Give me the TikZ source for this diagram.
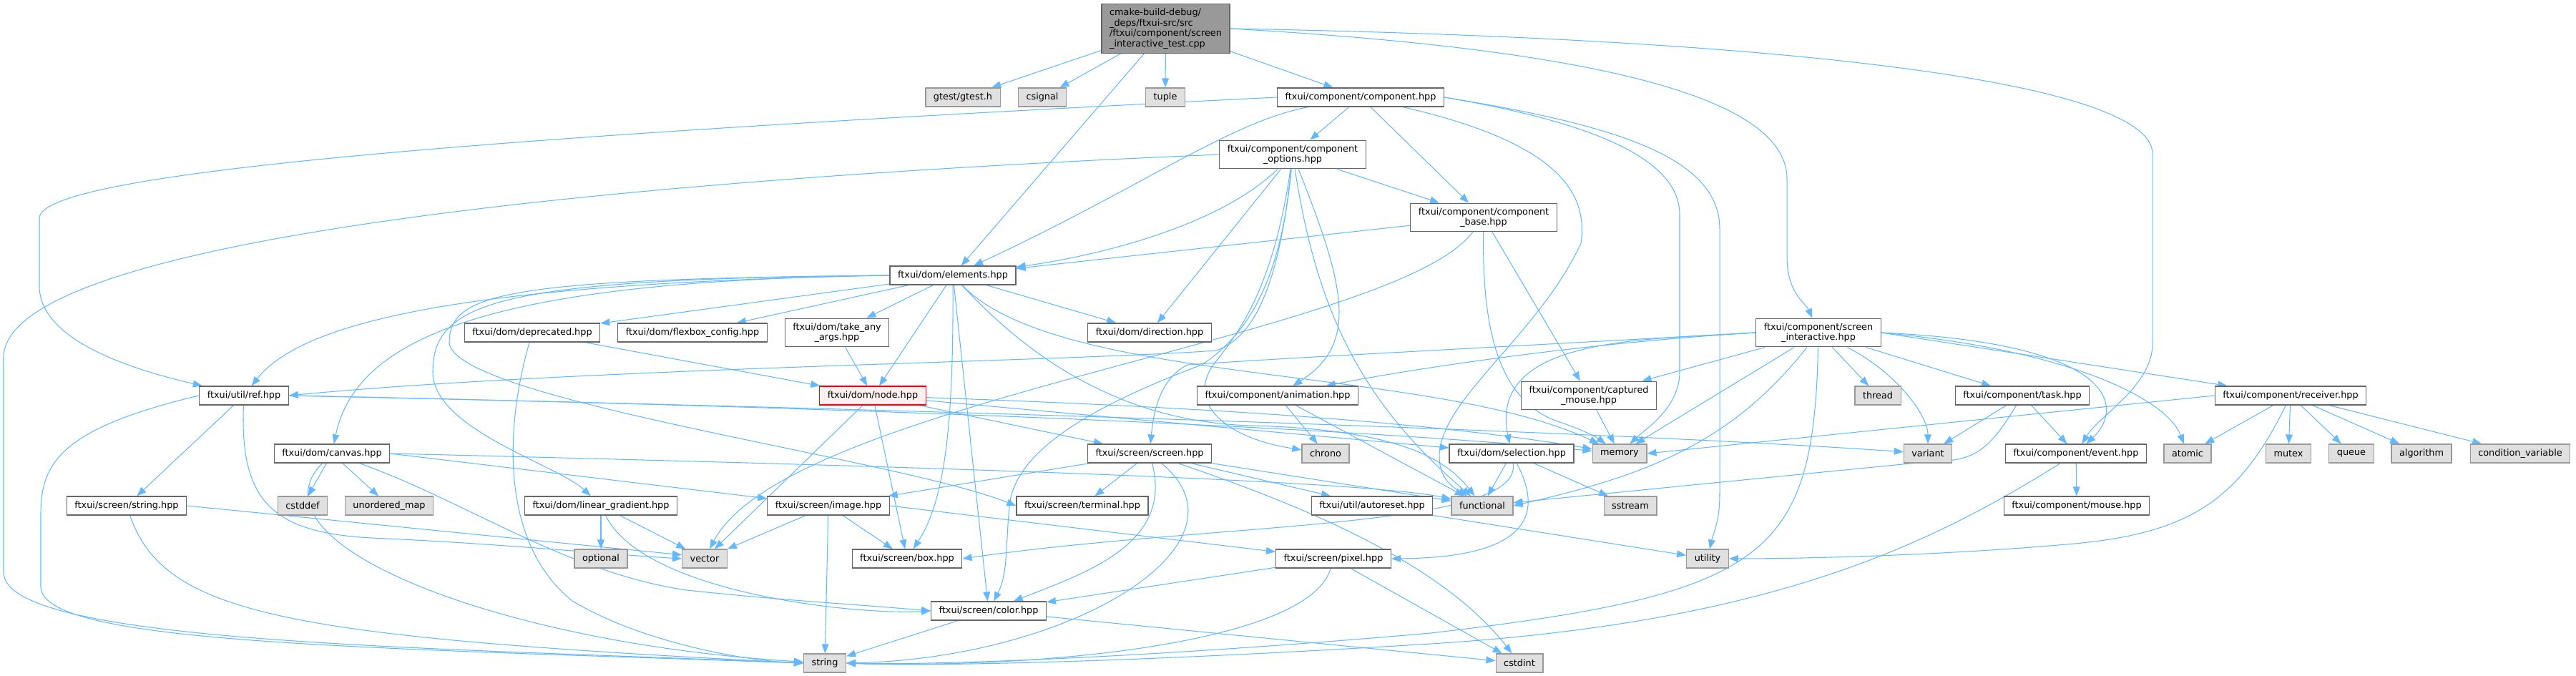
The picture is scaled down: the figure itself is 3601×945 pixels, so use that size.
\documentclass[tikz,border=0pt]{standalone}
\usepackage{fontspec}
\setmainfont{DejaVu Sans}
\usetikzlibrary{arrows.meta,backgrounds}
\definecolor{incblue}{HTML}{63B8FF}
\definecolor{sysgray}{HTML}{E0E0E0}
\definecolor{sysedge}{HTML}{999999}
\definecolor{hdredge}{HTML}{666666}
\definecolor{truncfill}{HTML}{FFF0F0}
\begin{document}
\begin{tikzpicture}[x=0.02cm,y=-0.02cm,
  hdr/.style={draw=hdredge,fill=white,line width=0.7pt,inner xsep=6.3pt,inner ysep=3.5pt,minimum height=14.8pt,align=center,font=\fontsize{7.3}{8.3}\selectfont},
  sys/.style={hdr,draw=sysedge,fill=sysgray},
  root/.style={hdr,draw=hdredge,fill=sysedge,align=left},
  trunc/.style={hdr,draw=red,fill=truncfill},
  inc/.style={draw=incblue,line width=0.6pt,-{Triangle[length=7.4pt,width=5.6pt]}}]
  \useasboundingbox (0,0) rectangle (3601,945);
  \node[root] (main) at (1629.5,40) {cmake-build-debug/\\\_deps/ftxui-src/src\\/ftxui/component/screen\\\_interactive\_test.cpp};
  \node[sys] (gtest) at (1346,136) {gtest/gtest.h};
  \node[sys] (csignal) at (1457,136) {csignal};
  \node[sys] (tuple) at (1629,136) {tuple};
  \node[hdr] (component) at (1902,136) {ftxui/component/component.hpp};
  \node[hdr] (options) at (1807,216) {ftxui/component/component\\\_options.hpp};
  \node[hdr] (base) at (2074,304) {ftxui/component/component\\\_base.hpp};
  \node[hdr] (elements) at (1332,385) {ftxui/dom/elements.hpp};
  \node[hdr] (deprecated) at (744,465) {ftxui/dom/deprecated.hpp};
  \node[hdr] (flexbox) at (968,465) {ftxui/dom/flexbox\_config.hpp};
  \node[hdr] (takeany) at (1170,465) {ftxui/dom/take\_any\\\_args.hpp};
  \node[hdr] (direction) at (1607,465) {ftxui/dom/direction.hpp};
  \node[hdr] (si) at (2542,465) {ftxui/component/screen\\\_interactive.hpp};
  \node[hdr] (ref) at (341,553) {ftxui/util/ref.hpp};
  \node[trunc] (node) at (1220,553) {ftxui/dom/node.hpp};
  \node[hdr] (animation) at (1786,553) {ftxui/component/animation.hpp};
  \node[hdr] (captured) at (2221,553) {ftxui/component/captured\\\_mouse.hpp};
  \node[sys] (thread) at (2625,553) {thread};
  \node[hdr] (task) at (2827,553) {ftxui/component/task.hpp};
  \node[hdr] (receiver) at (3202,553) {ftxui/component/receiver.hpp};
  \node[hdr] (canvas) at (464,634) {ftxui/dom/canvas.hpp};
  \node[hdr] (screen) at (1607,634) {ftxui/screen/screen.hpp};
  \node[sys] (chrono) at (1853,634) {chrono};
  \node[hdr] (selection) at (2113,634) {ftxui/dom/selection.hpp};
  \node[sys] (memory) at (2264,634) {memory};
  \node[sys] (variant) at (2695,634) {variant};
  \node[hdr] (event) at (2902,634) {ftxui/component/event.hpp};
  \node[sys] (atomic) at (3058,634) {atomic};
  \node[sys] (mutex) at (3199,634) {mutex};
  \node[sys] (queue) at (3287,634) {queue};
  \node[sys] (algorithm) at (3385,634) {algorithm};
  \node[sys] (condvar) at (3523,634) {condition\_variable};
  \node[hdr] (sstring) at (177,707) {ftxui/screen/string.hpp};
  \node[sys] (cstddef) at (423,707) {cstddef};
  \node[sys] (umap) at (544,707) {unordered\_map};
  \node[hdr] (lingrad) at (840,707) {ftxui/dom/linear\_gradient.hpp};
  \node[hdr] (image) at (1158,707) {ftxui/screen/image.hpp};
  \node[hdr] (terminal) at (1513,707) {ftxui/screen/terminal.hpp};
  \node[hdr] (autoreset) at (1918,707) {ftxui/util/autoreset.hpp};
  \node[sys] (functional) at (2072,707) {functional};
  \node[sys] (sstream) at (2279,707) {sstream};
  \node[hdr] (mouse) at (2903,707) {ftxui/component/mouse.hpp};
  \node[sys] (optional) at (840,781) {optional};
  \node[sys] (vector) at (985,781) {vector};
  \node[hdr] (box) at (1268,781) {ftxui/screen/box.hpp};
  \node[hdr] (pixel) at (1864,781) {ftxui/screen/pixel.hpp};
  \node[sys] (utility) at (2387,781) {utility};
  \node[hdr] (color) at (1382,854) {ftxui/screen/color.hpp};
  \node[sys] (string) at (1153,927) {string};
  \node[sys] (cstdint) at (2124,927) {cstdint};
  \begin{pgfonlayer}{background}
  \draw[inc] (main) -- (gtest);
  \draw[inc] (main) -- (csignal);
  \draw[inc] (main) -- (tuple);
  \draw[inc] (main) -- (component);
  \draw[inc] (main) -- (elements);
  \draw[inc] (main.east) .. controls (2250,70) and (2498,140) .. (2498,250) -- (2498,360) .. controls (2498,410) and (2525,425) .. (si);
  \draw[inc] (main.east) .. controls (2550,55) and (3009,120) .. (3009,215) -- (3009,480) .. controls (3009,540) and (2935,580) .. (event);
  \draw[inc] (component.west) .. controls (700,190) and (55,240) .. (55,305) -- (55,400) .. controls (55,480) and (200,520) .. (ref);
  \draw[inc] (component) -- (options);
  \draw[inc] (component) -- (base);
  \draw[inc] (component) .. controls (1720,170) and (1600,260) .. (elements);
  \draw[inc] (component) .. controls (2180,200) and (2220,270) .. (2210,340) .. controls (2150,470) and (2010,560) .. (2012,640) .. controls (2013,670) and (2030,680) .. (functional);
  \draw[inc] (component.east) .. controls (2220,170) and (2348,220) .. (2348,300) -- (2348,520) .. controls (2348,570) and (2300,600) .. (memory);
  \draw[inc] (component.east) .. controls (2260,175) and (2404,220) .. (2404,320) -- (2404,690) .. controls (2404,730) and (2395,745) .. (utility);
  \draw[inc] (options.west) .. controls (900,250) and (5,330) .. (5,500) -- (5,800) .. controls (5,900) and (600,905) .. (string.west);
  \draw[inc] (options) .. controls (1700,320) and (1520,360) .. (elements);
  \draw[inc] (options) -- (direction);
  \draw[inc] (options) .. controls (1790,380) and (1760,470) .. (1700,490) .. controls (1500,505) and (800,515) .. (ref.east);
  \draw[inc] (options) .. controls (1880,400) and (1900,480) .. (animation);
  \draw[inc] (options) .. controls (1840,430) and (1900,560) .. (functional);
  \draw[inc] (options) .. controls (1780,400) and (1735,460) .. (1700,505) .. controls (1655,560) and (1710,612) .. (chrono);
  \draw[inc] (options) .. controls (1790,400) and (1740,470) .. (1680,510) .. controls (1520,570) and (1425,630) .. (1412,700) .. controls (1405,760) and (1410,800) .. (color);
  \draw[inc] (options) -- (base);
  \draw[inc] (base) -- (elements);
  \draw[inc] (base) .. controls (1950,470) and (1100,560) .. (vector);
  \draw[inc] (base) .. controls (2072,450) and (2090,560) .. (2180,590) .. controls (2210,600) and (2230,610) .. (memory);
  \draw[inc] (base) -- (captured);
  \draw[inc] (elements) -- (deprecated);
  \draw[inc] (elements) -- (flexbox);
  \draw[inc] (elements) -- (takeany);
  \draw[inc] (elements) -- (direction);
  \draw[inc] (elements.west) .. controls (700,395) and (430,440) .. (ref);
  \draw[inc] (elements.west) .. controls (720,392) and (500,460) .. (canvas);
  \draw[inc] (elements.west) .. controls (700,390) and (605,420) .. (605,520) .. controls (605,600) and (780,650) .. (lingrad);
  \draw[inc] (elements.west) .. controls (700,390) and (628,410) .. (628,480) .. controls (640,560) and (1250,640) .. (terminal.west);
  \draw[inc] (elements) -- (node);
  \draw[inc] (elements) .. controls (1333,600) and (1320,700) .. (box);
  \draw[inc] (elements) -- (color);
  \draw[inc] (elements) .. controls (1420,480) and (1550,590) .. (1750,595) .. controls (1950,600) and (2020,640) .. (functional);
  \draw[inc] (elements) .. controls (1480,540) and (2000,510) .. (memory);
  \draw[inc] (deprecated) -- (node);
  \draw[inc] (deprecated) .. controls (705,600) and (700,760) .. (800,840) .. controls (900,900) and (1050,925) .. (string);
  \draw[inc] (takeany) -- (node);
  \draw[inc] (node) .. controls (1700,570) and (2000,590) .. (memory);
  \draw[inc] (node) -- (selection);
  \draw[inc] (node) -- (screen);
  \draw[inc] (node) -- (box);
  \draw[inc] (node) -- (vector);
  \draw[inc] (canvas) -- (cstddef);
  \draw[inc] (canvas) -- (umap);
  \draw[inc] (canvas) .. controls (340,760) and (700,900) .. (string);
  \draw[inc] (canvas.east) .. controls (1200,650) and (1900,670) .. (functional);
  \draw[inc] (canvas) .. controls (650,700) and (790,800) .. (960,825) .. controls (1100,840) and (1200,845) .. (color.west);
  \draw[inc] (canvas.east) -- (image);
  \draw[inc] (sstring) .. controls (230,860) and (400,890) .. (string.west);
  \draw[inc] (sstring.east) -- ([yshift=3pt]vector.west);
  \draw[inc] (ref) -- (sstring);
  \draw[inc] (ref.west) .. controls (80,600) and (57,650) .. (57,720) -- (57,820) .. controls (57,900) and (500,905) .. (string.west);
  \draw[inc] (ref) .. controls (335,700) and (380,745) .. (520,752) .. controls (700,760) and (850,775) .. (vector.west);
  \draw[inc] (ref.east) .. controls (1000,565) and (1800,590) .. (memory);
  \draw[inc] (ref.east) .. controls (1200,570) and (2200,600) .. (variant);
  \draw[inc] (lingrad) -- (optional);
  \draw[inc] (lingrad) -- (vector);
  \draw[inc] (lingrad) .. controls (900,830) and (1200,860) .. (color.west);
  \draw[inc] (image) -- (vector);
  \draw[inc] (image) -- (string);
  \draw[inc] (image) -- (box);
  \draw[inc] (image.east) -- (pixel);
  \draw[inc] (screen) -- (image);
  \draw[inc] (screen) -- (terminal);
  \draw[inc] (screen) .. controls (1640,760) and (1520,800) .. (color);
  \draw[inc] (screen) .. controls (1760,760) and (1500,920) .. (string.east);
  \draw[inc] (screen) .. controls (1800,700) and (2010,780) .. (cstdint);
  \draw[inc] (screen) -- (autoreset);
  \draw[inc] (screen) -- (functional);
  \draw[inc] (selection) -- (functional);
  \draw[inc] (selection) -- (sstream);
  \draw[inc] (selection) .. controls (2130,740) and (1700,730) .. (box.east);
  \draw[inc] (selection) .. controls (2180,760) and (2060,780) .. (pixel.east);
  \draw[inc] (pixel) -- (color);
  \draw[inc] (pixel) .. controls (1830,900) and (1450,935) .. (string.east);
  \draw[inc] (pixel) -- (cstdint);
  \draw[inc] (color) -- (string);
  \draw[inc] (color) -- (cstdint);
  \draw[inc] (autoreset) -- (utility);
  \draw[inc] (animation) -- (chrono);
  \draw[inc] (animation) -- (functional);
  \draw[inc] (captured) -- (memory);
  \draw[inc] (si.west) .. controls (2100,485) and (1800,500) .. (1660,510) .. controls (1620,530) and (1612,580) .. (screen);
  \draw[inc] (si.west) .. controls (2200,480) and (1950,520) .. (animation);
  \draw[inc] (si.west) .. controls (2300,475) and (2080,470) .. (selection);
  \draw[inc] (si) -- (captured);
  \draw[inc] (si) -- (memory);
  \draw[inc] (si) .. controls (2420,620) and (2300,665) .. (functional.east);
  \draw[inc] (si) .. controls (2535,780) and (2470,830) .. (2000,885) .. controls (1600,920) and (1300,930) .. (string.east);
  \draw[inc] (si) -- (thread);
  \draw[inc] (si) .. controls (2650,520) and (2695,580) .. (variant);
  \draw[inc] (si) -- (task);
  \draw[inc] (si.east) .. controls (2960,480) and (2970,570) .. (event);
  \draw[inc] (si.east) .. controls (2900,490) and (3030,560) .. (atomic);
  \draw[inc] (si.east) -- (receiver);
  \draw[inc] (task) -- (variant);
  \draw[inc] (task) -- (event);
  \draw[inc] (task) .. controls (2780,630) and (2760,645) .. (2700,645) -- (functional);
  \draw[inc] (event) -- (mouse);
  \draw[inc] (event) .. controls (2700,760) and (2480,870) .. (2000,900) .. controls (1600,925) and (1300,932) .. (string.east);
  \draw[inc] (receiver.west) -- (memory.east);
  \draw[inc] (receiver) -- (atomic);
  \draw[inc] (receiver) -- (mutex);
  \draw[inc] (receiver) -- (queue);
  \draw[inc] (receiver) -- (algorithm);
  \draw[inc] (receiver) -- (condvar);
  \draw[inc] (receiver) .. controls (3130,700) and (3060,745) .. (2900,760) .. controls (2700,778) and (2500,781) .. (utility.east);
  \end{pgfonlayer}
\end{tikzpicture}
\end{document}
